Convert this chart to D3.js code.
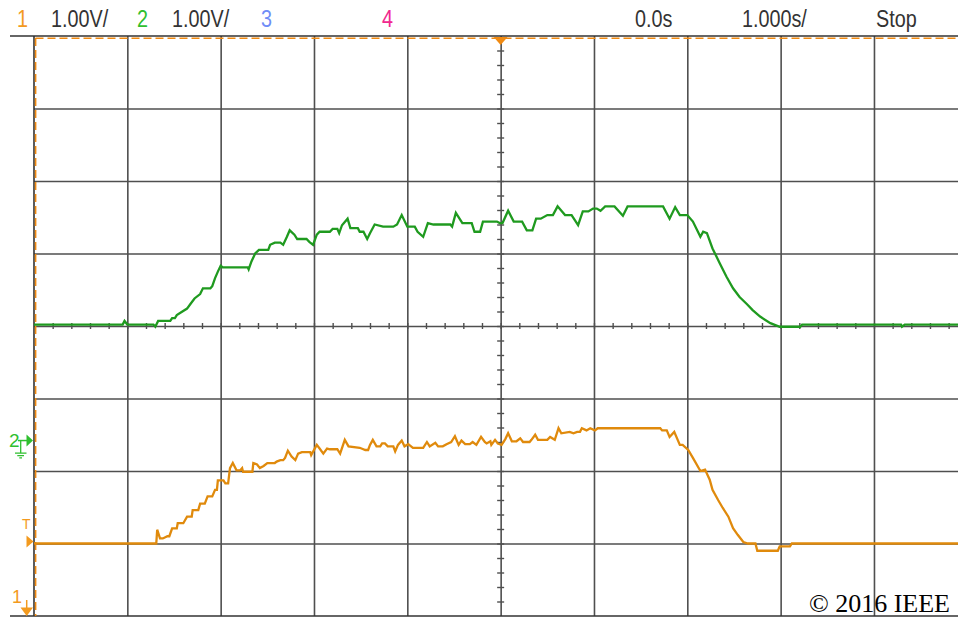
<!DOCTYPE html>
<html>
<head>
<meta charset="UTF-8">
<title>Scope capture</title>
<style>
  body { margin: 0; background: #ffffff; }
  svg { display: block; }
  .hdr { font-family: 'Liberation Sans', Arial, sans-serif; font-size: 23px; }
  .copy { font-family: 'Liberation Serif', 'Times New Roman', serif; font-size: 26px; fill: #000; }
  .grid line { stroke: #4f4f4f; stroke-width: 1.6; }
  .grid path { display: none; }
  .minor line { stroke: #4f4f4f; stroke-width: 1.4; }
  .minor path { display: none; }
</style>
</head>
<body>
<script src="https://cdn.jsdelivr.net/npm/d3@7"></script>
<script>
// screen settings
const timeDivs = [-5, 5];      // 1.000 s/div, 0.0 s at centre
const voltDivs = [-4, 4];      // 1.00 V/div
const ch2Pos = 0;              // channel 2 trace position (div)
const ch1Pos = -3;             // channel 1 trace position (div)

// channel 2 (green) - [time s, volts]
const ch2Trace = [
  [-5.0, 0.02], [-4.05, 0.02], [-4.03, 0.07], [-4.0, 0.02], [-3.72, 0.02], [-3.70, -0.01],
  [-3.67, 0.07], [-3.54, 0.07], [-3.52, 0.11], [-3.49, 0.11], [-3.47, 0.15], [-3.41, 0.20],
  [-3.36, 0.24], [-3.32, 0.31], [-3.28, 0.38], [-3.22, 0.44], [-3.19, 0.52], [-3.11, 0.52],
  [-3.09, 0.55], [-3.06, 0.66], [-3.03, 0.75], [-3.00, 0.83], [-2.98, 0.81], [-2.71, 0.81],
  [-2.70, 0.78], [-2.67, 0.89], [-2.63, 1.00], [-2.59, 1.05], [-2.49, 1.05], [-2.47, 1.12],
  [-2.42, 1.15], [-2.36, 1.15], [-2.33, 1.12], [-2.29, 1.23], [-2.26, 1.32], [-2.21, 1.26],
  [-2.18, 1.20], [-2.08, 1.20], [-2.05, 1.16], [-2.01, 1.12], [-1.97, 1.26], [-1.94, 1.30],
  [-1.83, 1.30], [-1.80, 1.34], [-1.75, 1.34], [-1.73, 1.28], [-1.70, 1.39], [-1.64, 1.48],
  [-1.61, 1.35], [-1.53, 1.35], [-1.51, 1.30], [-1.47, 1.30], [-1.43, 1.20], [-1.40, 1.28],
  [-1.35, 1.40], [-1.26, 1.37], [-1.15, 1.37], [-1.11, 1.40], [-1.06, 1.53], [-1.00, 1.37],
  [-0.92, 1.37], [-0.89, 1.30], [-0.83, 1.23], [-0.78, 1.42], [-0.72, 1.40], [-0.54, 1.40],
  [-0.52, 1.37], [-0.48, 1.56], [-0.41, 1.42], [-0.31, 1.42], [-0.28, 1.30], [-0.22, 1.30],
  [-0.19, 1.44], [-0.04, 1.44], [-0.01, 1.42], [0.02, 1.42], [0.08, 1.59], [0.14, 1.44],
  [0.23, 1.44], [0.28, 1.32], [0.34, 1.32], [0.38, 1.48], [0.43, 1.48], [0.50, 1.53],
  [0.56, 1.53], [0.61, 1.65], [0.69, 1.53], [0.76, 1.53], [0.83, 1.39], [0.88, 1.58],
  [0.94, 1.58], [0.99, 1.62], [1.03, 1.62], [1.07, 1.59], [1.12, 1.65], [1.22, 1.65],
  [1.31, 1.52], [1.36, 1.65], [1.74, 1.65], [1.81, 1.48], [1.87, 1.64], [1.92, 1.53],
  [2.00, 1.53], [2.06, 1.44], [2.14, 1.23], [2.17, 1.30], [2.21, 1.28], [2.27, 1.07],
  [2.35, 0.86], [2.42, 0.68], [2.49, 0.52], [2.56, 0.40], [2.64, 0.30], [2.70, 0.22],
  [2.78, 0.13], [2.89, 0.04], [2.99, -0.01], [3.21, -0.01], [3.23, 0.02], [4.29, 0.02],
  [4.30, -0.01], [4.33, 0.02], [5.0, 0.02]
];

// channel 1 (orange) - [time s, volts]
const ch1Trace = [
  [-5.0, 0.0], [-3.69, 0.0], [-3.68, 0.19], [-3.65, 0.07], [-3.62, 0.07], [-3.57, 0.10],
  [-3.55, 0.10], [-3.52, 0.21], [-3.47, 0.21], [-3.46, 0.28], [-3.40, 0.28], [-3.36, 0.37],
  [-3.31, 0.37], [-3.30, 0.46], [-3.24, 0.46], [-3.22, 0.55], [-3.17, 0.55], [-3.14, 0.65],
  [-3.09, 0.65], [-3.06, 0.74], [-3.04, 0.74], [-3.03, 0.87], [-2.97, 0.87], [-2.95, 0.83],
  [-2.92, 0.83], [-2.90, 1.04], [-2.87, 1.11], [-2.83, 1.01], [-2.79, 1.01], [-2.77, 1.04],
  [-2.76, 0.99], [-2.66, 0.99], [-2.65, 1.11], [-2.61, 1.09], [-2.58, 1.04], [-2.54, 1.07],
  [-2.50, 1.11], [-2.42, 1.11], [-2.40, 1.13], [-2.36, 1.15], [-2.33, 1.15], [-2.31, 1.18],
  [-2.28, 1.28], [-2.24, 1.20], [-2.20, 1.15], [-2.17, 1.24], [-2.13, 1.26], [-2.04, 1.26],
  [-2.03, 1.22], [-1.97, 1.36], [-1.94, 1.31], [-1.90, 1.24], [-1.86, 1.31], [-1.83, 1.30],
  [-1.75, 1.30], [-1.72, 1.24], [-1.67, 1.43], [-1.63, 1.34], [-1.51, 1.32], [-1.45, 1.29],
  [-1.42, 1.29], [-1.40, 1.36], [-1.37, 1.43], [-1.33, 1.34], [-1.29, 1.34], [-1.27, 1.38],
  [-1.24, 1.38], [-1.21, 1.34], [-1.15, 1.34], [-1.13, 1.27], [-1.10, 1.36], [-1.06, 1.42],
  [-1.03, 1.34], [-0.99, 1.37], [-0.94, 1.32], [-0.83, 1.32], [-0.79, 1.40], [-0.76, 1.34],
  [-0.70, 1.39], [-0.67, 1.34], [-0.62, 1.34], [-0.58, 1.37], [-0.53, 1.40], [-0.49, 1.48],
  [-0.45, 1.36], [-0.42, 1.42], [-0.38, 1.37], [-0.33, 1.37], [-0.30, 1.40], [-0.26, 1.36],
  [-0.21, 1.47], [-0.17, 1.40], [-0.15, 1.38], [-0.11, 1.41], [-0.10, 1.36], [-0.06, 1.43],
  [-0.03, 1.38], [0.01, 1.36], [0.05, 1.44], [0.08, 1.52], [0.12, 1.41], [0.17, 1.41],
  [0.21, 1.45], [0.24, 1.40], [0.31, 1.40], [0.33, 1.43], [0.37, 1.50], [0.40, 1.43],
  [0.50, 1.43], [0.53, 1.47], [0.58, 1.43], [0.62, 1.59], [0.65, 1.52], [0.74, 1.54],
  [0.78, 1.52], [0.82, 1.54], [0.85, 1.54], [0.87, 1.59], [0.92, 1.56], [0.96, 1.59],
  [1.01, 1.56], [1.04, 1.59], [1.71, 1.59], [1.73, 1.56], [1.78, 1.56], [1.81, 1.47],
  [1.86, 1.54], [1.92, 1.36], [1.95, 1.36], [2.01, 1.29], [2.06, 1.18], [2.14, 1.00],
  [2.19, 1.02], [2.24, 0.88], [2.27, 0.74], [2.33, 0.60], [2.38, 0.49], [2.44, 0.37],
  [2.49, 0.21], [2.54, 0.12], [2.60, 0.02], [2.65, 0.0], [2.73, 0.0], [2.75, -0.10],
  [2.97, -0.10], [2.99, -0.04], [3.10, -0.04], [3.12, 0.0], [5.0, 0.0]
];

// header labels
const headerLabels = [
  { text: '1', x: 17, color: '#f39a1e' },
  { text: '1.00V/', x: 51, color: '#333333' },
  { text: '2', x: 137, color: '#2fbf2f' },
  { text: '1.00V/', x: 172, color: '#333333' },
  { text: '3', x: 261, color: '#6f8df7' },
  { text: '4', x: 382, color: '#f0288e' },
  { text: '0.0s', x: 635, color: '#333333' },
  { text: '1.000s/', x: 742, color: '#333333' },
  { text: 'Stop', x: 876, color: '#333333' }
];

const W = 958, H = 617;
const plot = { left: 34, top: 36, width: 933.3, height: 580 };

const svg = d3.select('body').append('svg')
  .attr('width', W)
  .attr('height', H);

const x = d3.scaleLinear().domain(timeDivs).range([plot.left, plot.left + plot.width]);
const y = d3.scaleLinear().domain(voltDivs).range([plot.top + plot.height, plot.top]);

// major grid
svg.append('g')
  .attr('class', 'grid')
  .attr('transform', `translate(0,${plot.top + plot.height})`)
  .call(d3.axisBottom(x).tickValues(d3.range(-4, 5, 1)).tickSize(-plot.height).tickFormat(''));

svg.append('g')
  .attr('class', 'grid')
  .attr('transform', `translate(${plot.left},0)`)
  .call(d3.axisLeft(y).tickValues(d3.range(-3, 4, 1)).tickSize(-plot.width).tickFormat(''));

// minor ticks on centre lines
const hMinor = svg.append('g')
  .attr('class', 'minor')
  .attr('transform', `translate(0,${y(0)})`)
  .call(d3.axisBottom(x).tickValues(d3.range(-4.8, 5, 0.2)).tickFormat(''));
hMinor.selectAll('line').attr('y1', -3).attr('y2', 3);

const vMinor = svg.append('g')
  .attr('class', 'minor')
  .attr('transform', `translate(${x(0)},0)`)
  .call(d3.axisLeft(y).tickValues(d3.range(-3.8, 4, 0.2)).tickFormat(''));
vMinor.selectAll('line').attr('x1', -3.5).attr('x2', 3.5);

// frame
svg.append('line').attr('x1', 10).attr('x2', W).attr('y1', plot.top).attr('y2', plot.top)
  .attr('stroke', '#333').attr('stroke-width', 1.6);
svg.append('line').attr('x1', 10).attr('x2', W).attr('y1', plot.top + plot.height).attr('y2', plot.top + plot.height)
  .attr('stroke', '#333').attr('stroke-width', 1.6);
svg.append('line').attr('x1', plot.left).attr('x2', plot.left).attr('y1', plot.top).attr('y2', plot.top + plot.height)
  .attr('stroke', '#333').attr('stroke-width', 1.6);

// orange dashed cursor lines
svg.append('line').attr('x1', plot.left + 1.5).attr('x2', W).attr('y1', plot.top + 2.2).attr('y2', plot.top + 2.2)
  .attr('stroke', '#f08a12').attr('stroke-width', 1.6).attr('stroke-dasharray', '8,4');
svg.append('line').attr('x1', plot.left + 1.6).attr('x2', plot.left + 1.6).attr('y1', plot.top + 2).attr('y2', plot.top + plot.height)
  .attr('stroke', '#f08a12').attr('stroke-width', 1.6).attr('stroke-dasharray', '8,4');

// traces
svg.append('clipPath').attr('id', 'scr')
  .append('rect').attr('x', plot.left).attr('y', plot.top).attr('width', plot.width).attr('height', plot.height);

const ch2Line = d3.line().x(d => x(d[0])).y(d => y(d[1] + ch2Pos));
const ch1Line = d3.line().x(d => x(d[0])).y(d => y(d[1] + ch1Pos));

svg.append('path')
  .datum(ch1Trace)
  .attr('clip-path', 'url(#scr)')
  .attr('fill', 'none')
  .attr('stroke', '#e08a0c')
  .attr('stroke-width', 2.3)
  .attr('stroke-linejoin', 'miter')
  .attr('d', ch1Line);

svg.append('path')
  .datum(ch2Trace)
  .attr('clip-path', 'url(#scr)')
  .attr('fill', 'none')
  .attr('stroke', '#1f9a1f')
  .attr('stroke-width', 2.3)
  .attr('stroke-linejoin', 'miter')
  .attr('d', ch2Line);

// trigger position marker (top)
const tx = x(0), ty = plot.top + 1;
svg.append('path')
  .attr('d', `M${tx - 7},${ty} L${tx + 7},${ty} L${tx},${ty + 8} Z`)
  .attr('fill', '#f08a12');

// channel 2 ground marker
const g2 = y(-1.58);
svg.append('text').attr('x', 9).attr('y', g2 + 6).attr('fill', '#2fbf2f')
  .style('font-family', 'Liberation Sans, Arial, sans-serif').style('font-size', '19px').text('2');
svg.append('path').attr('d', `M18,${g2} L27,${g2}`).attr('stroke', '#2fbf2f').attr('stroke-width', 1.5);
svg.append('path').attr('d', `M26.5,${g2 - 6} L33,${g2} L26.5,${g2 + 6} Z`).attr('fill', '#2fbf2f');
svg.append('path')
  .attr('d', `M20.7,${g2} L20.7,${g2 + 12} M15,${g2 + 12.5} L26.5,${g2 + 12.5} M17.3,${g2 + 15} L24,${g2 + 15} M19.3,${g2 + 17.3} L22,${g2 + 17.3}`)
  .attr('stroke', '#2fbf2f').attr('stroke-width', 1.3);

// trigger level marker
const tl = y(ch1Pos) - 2;
svg.append('text').attr('x', 22).attr('y', tl - 13).attr('fill', '#f39a1e')
  .style('font-family', 'Liberation Sans, Arial, sans-serif').style('font-size', '14px').text('T');
svg.append('path').attr('d', `M26.5,${tl - 6} L33.5,${tl} L26.5,${tl + 6} Z`).attr('fill', '#f39a1e');

// channel 1 ground marker (off screen, below)
const gb = plot.top + plot.height;
svg.append('text').attr('x', 12).attr('y', gb - 13).attr('fill', '#f39a1e')
  .style('font-family', 'Liberation Sans, Arial, sans-serif').style('font-size', '18px').text('1');
svg.append('path').attr('d', `M26.7,${gb - 16} L26.7,${gb - 8}`).attr('stroke', '#f39a1e').attr('stroke-width', 1.5);
svg.append('path').attr('d', `M20.5,${gb - 8.5} L33,${gb - 8.5} L26.7,${gb} Z`).attr('fill', '#f39a1e');

// header
svg.selectAll('.hdr')
  .data(headerLabels)
  .enter()
  .append('text')
  .attr('class', 'hdr')
  .attr('transform', d => `translate(${d.x},27) scale(0.86,1)`)
  .attr('fill', d => d.color)
  .text(d => d.text);

// copyright
svg.append('text')
  .attr('class', 'copy')
  .attr('x', 950)
  .attr('y', 612)
  .attr('text-anchor', 'end')
  .text('\u00a9 2016 IEEE');
</script>
</body>
</html>
